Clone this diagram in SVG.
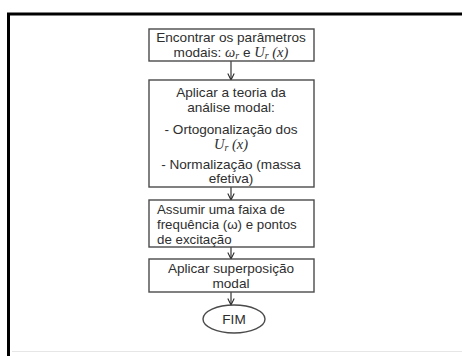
<svg xmlns="http://www.w3.org/2000/svg" width="462" height="356" viewBox="0 0 462 356">
<defs>
<style>
.box{fill:#fff;stroke:#4a4a4a;stroke-width:1.4}
.t{font-family:"Liberation Sans","DejaVu Sans",sans-serif;font-size:13.6px;fill:#2e2e2e;text-anchor:middle}
.tl{font-family:"Liberation Sans","DejaVu Sans",sans-serif;font-size:13.3px;fill:#2e2e2e}
.m{font-family:"Liberation Serif","DejaVu Serif",serif;font-style:italic;font-size:14.5px}
.s{font-family:"Liberation Serif","DejaVu Serif",serif;font-style:italic;font-size:10px}
.c{stroke:#222;stroke-width:1.1;fill:none}
</style>
<marker id="ah" viewBox="0 0 10 10" refX="9" refY="5" markerWidth="8" markerHeight="8" orient="auto" markerUnits="userSpaceOnUse">
<path d="M1,1 L9,5 L1,9" fill="none" stroke="#222" stroke-width="1.3"/>
</marker>
</defs>
<rect width="462" height="356" fill="#fff"/>
<g id="frame">
<path d="M8.5,356 V14 H462" fill="none" stroke="#000" stroke-width="3"/>
<path d="M12,351.5 H462" stroke="#e6e6e6" stroke-width="1"/>
</g>
<g id="connectors">
<path class="c" d="M231,61 V80" marker-end="url(#ah)"/>
<path class="c" d="M231,187 V200" marker-end="url(#ah)"/>
<path class="c" d="M231,247 V259" marker-end="url(#ah)"/>
<path class="c" d="M231,292 V305" marker-end="url(#ah)"/>
</g>
<g id="n1">
<rect class="box" x="149" y="29" width="165" height="32"/>
<text class="t" x="231" y="42">Encontrar os parâmetros</text>
<text class="t" x="231" y="57">modais: <tspan class="m">ω</tspan><tspan class="s" dy="2">r</tspan><tspan dy="-2"> e </tspan><tspan class="m">U</tspan><tspan class="s" dy="2">r</tspan><tspan class="m" dy="-2"> (x)</tspan></text>
</g>
<g id="n2">
<rect class="box" x="149" y="80" width="165" height="107"/>
<text class="t" x="231" y="97">Aplicar a teoria da</text>
<text class="t" x="231" y="112">análise modal:</text>
<text class="t" x="231" y="134">- Ortogonalização dos</text>
<text class="t" x="231" y="149"><tspan class="m">U</tspan><tspan class="s" dy="2">r</tspan><tspan class="m" dy="-2"> (x)</tspan></text>
<text class="t" x="231" y="169">- Normalização (massa</text>
<text class="t" x="231" y="183">efetiva)</text>
</g>
<g id="n3">
<rect class="box" x="149" y="200" width="165" height="47"/>
<text class="tl" x="157" y="214">Assumir uma faixa de</text>
<text class="tl" x="157" y="229">frequência (ω) e pontos</text>
<text class="tl" x="157" y="244">de excitação</text>
</g>
<g id="n4">
<rect class="box" x="149" y="259" width="165" height="33"/>
<text class="t" x="231" y="273">Aplicar superposição</text>
<text class="t" x="231" y="288">modal</text>
</g>
<g id="n5">
<ellipse class="box" cx="234" cy="319" rx="31" ry="14"/>
<text class="t" x="234" y="323.5">FIM</text>
</g>
</svg>
